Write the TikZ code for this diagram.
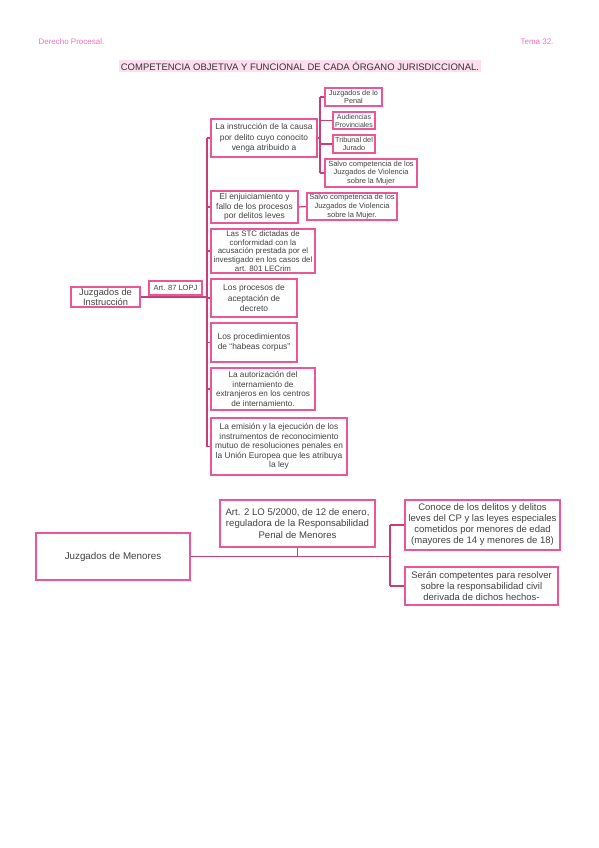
\documentclass[tikz,border=0pt]{standalone}
\usepackage{fontspec}
\setmainfont{Liberation Sans}
\definecolor{boxpink}{RGB}{234,86,152}
\definecolor{linkpink}{RGB}{200,62,122}
\definecolor{headpink}{RGB}{242,112,192}
\definecolor{titlebg}{RGB}{253,222,238}
\begin{document}
\begin{tikzpicture}[x=1pt, y=-1pt,
    caja/.style={draw=boxpink, line width=1.2pt, align=center, inner sep=0.5pt, text=black!75},
    cajag/.style={caja, line width=1.6pt},
    linea/.style={draw=linkpink, line width=1.2pt}]
    \useasboundingbox (0,0) rectangle (599,848);
    % cabecera
    \node[anchor=west, text=headpink, font=\fontsize{8}{9}\selectfont] (asig) at (35,42) {Derecho Procesal.};
    \node[anchor=east, text=headpink, font=\fontsize{8}{9}\selectfont] (tema) at (557,42) {Tema 32.};
    \node[fill=titlebg, inner sep=1.5pt, text=black!80, font=\fontsize{9.5}{10}\selectfont] (titulo) at (300,66)
        {COMPETENCIA OBJETIVA Y FUNCIONAL DE CADA ÓRGANO JURISDICCIONAL.};

    % arriba: juzgados de instruccion
    \begin{scope}
        \node[caja, minimum width=69, minimum height=20, font=\fontsize{9.3}{10}\selectfont] (instr) at (105.5,297) {Juzgados de\\Instrucción};
        \node[caja, minimum width=53, minimum height=14, font=\fontsize{7.5}{8}\selectfont] (lopj) at (175.5,288) {Art. 87 LOPJ};
        % segundo nivel
        \node[caja, minimum width=106, minimum height=38, font=\fontsize{8.4}{10.5}\selectfont] (b1) at (264,138)
            {La instrucción de la causa\\por delito cuyo conocito\\venga atribuido a};
        \node[caja, minimum width=87, minimum height=32, font=\fontsize{8.4}{9.8}\selectfont] (b2) at (254.5,207)
            {El enjuiciamiento y\\fallo de los procesos\\por delitos leves};
        \node[caja, minimum width=104, minimum height=44, font=\fontsize{7.9}{8.6}\selectfont] (b3) at (263,251)
            {Las STC dictadas de\\conformidad con la\\acusación prestada por el\\investigado en los casos del\\art. 801 LECrim};
        \node[caja, minimum width=86, minimum height=38, font=\fontsize{8.4}{10.5}\selectfont] (b4) at (254,298)
            {Los procesos de\\aceptación de\\decreto};
        \node[caja, minimum width=86, minimum height=39, font=\fontsize{8.4}{10.5}\selectfont] (b5) at (254,342.5)
            {Los procedimientos\\de ``habeas corpus''};
        \node[caja, minimum width=104, minimum height=42, font=\fontsize{8.2}{9.4}\selectfont] (b6) at (263,389)
            {La autorización del\\internamiento de\\extranjeros en los centros\\de internamiento.};
        \node[caja, minimum width=136, minimum height=57, font=\fontsize{8.4}{9.4}\selectfont] (b7) at (279,446.5)
            {La emisión y la ejecución de los\\instrumentos de reconocimiento\\mutuo de resoluciones penales en\\la Unión Europea que les atribuya\\la ley};
        % tercer nivel
        \node[caja, minimum width=57, minimum height=18, font=\fontsize{7.3}{8}\selectfont] (c1) at (353.5,97) {Juzgados de lo\\Penal};
        \node[caja, minimum width=42, minimum height=17, font=\fontsize{7}{8}\selectfont] (c2) at (354,120.5) {Audiencias\\Provinciales};
        \node[caja, minimum width=42, minimum height=18, font=\fontsize{7.3}{8}\selectfont] (c3) at (354,144) {Tribunal del\\Jurado};
        \node[caja, minimum width=92, minimum height=28, font=\fontsize{7.5}{8.6}\selectfont] (c4) at (371,173)
            {Salvo competencia de los\\Juzgados de Violencia\\sobre la Mujer};
        \node[caja, minimum width=90, minimum height=27, font=\fontsize{7.5}{8.6}\selectfont] (d1) at (352,206.5)
            {Salvo competencia de los\\Juzgados de Violencia\\sobre la Mujer.};
        % conexiones
        \coordinate (tronco) at (207,0);
        \coordinate (rama) at (320,0);
        \draw[linea] (b1.west -| tronco) -- (b7.west -| tronco);
        \foreach \i in {1,...,7} {
            \draw[linea] (b\i.west -| tronco) -- (b\i.west);
        }
        \draw[linea] (instr.east) -- (instr.east -| tronco);
        \draw[linea] (lopj.south) -- (lopj.south |- instr.east);
        \draw[linea] (c1.west -| rama) -- (c4.west -| rama);
        \foreach \i in {1,...,4} {
            \draw[linea] (c\i.west -| rama) -- (c\i.west);
        }
        \draw[linea] (b1.east) -- (b1.east -| rama);
        \draw[linea] (b2.east) -- (d1.west);
    \end{scope}

    % abajo: juzgados de menores
    \begin{scope}
        \node[cajag, minimum width=154, minimum height=47, font=\fontsize{9.8}{11}\selectfont] (men) at (113,556.5) {Juzgados de Menores};
        \node[cajag, minimum width=155, minimum height=47, font=\fontsize{9.6}{11.2}\selectfont] (art2) at (297.5,523.5)
            {Art. 2 LO 5/2000, de 12 de enero,\\reguladora de la Responsabilidad\\Penal de Menores};
        \node[cajag, minimum width=155, minimum height=50, font=\fontsize{9.5}{11}\selectfont] (e1) at (482.5,525)
            {Conoce de los delitos y delitos\\leves del CP y las leyes especiales\\cometidos por menores de edad\\(mayores de 14 y menores de 18)};
        \node[cajag, minimum width=153, minimum height=38, font=\fontsize{9.5}{11}\selectfont] (e2) at (481.5,586)
            {Serán competentes para resolver\\sobre la responsabilidad civil\\derivada de dichos hechos-};
        % conexiones
        \coordinate (ramb) at (390,0);
        \draw[linea] (e1.west -| ramb) -- (e2.west -| ramb);
        \foreach \i in {1,2} {
            \draw[linea] (e\i.west -| ramb) -- (e\i.west);
        }
        \draw[linea] (men.east) -- (men.east -| ramb);
        \draw[linea] (art2.south) -- (art2.south |- men.east);
    \end{scope}
\end{tikzpicture}
\end{document}
